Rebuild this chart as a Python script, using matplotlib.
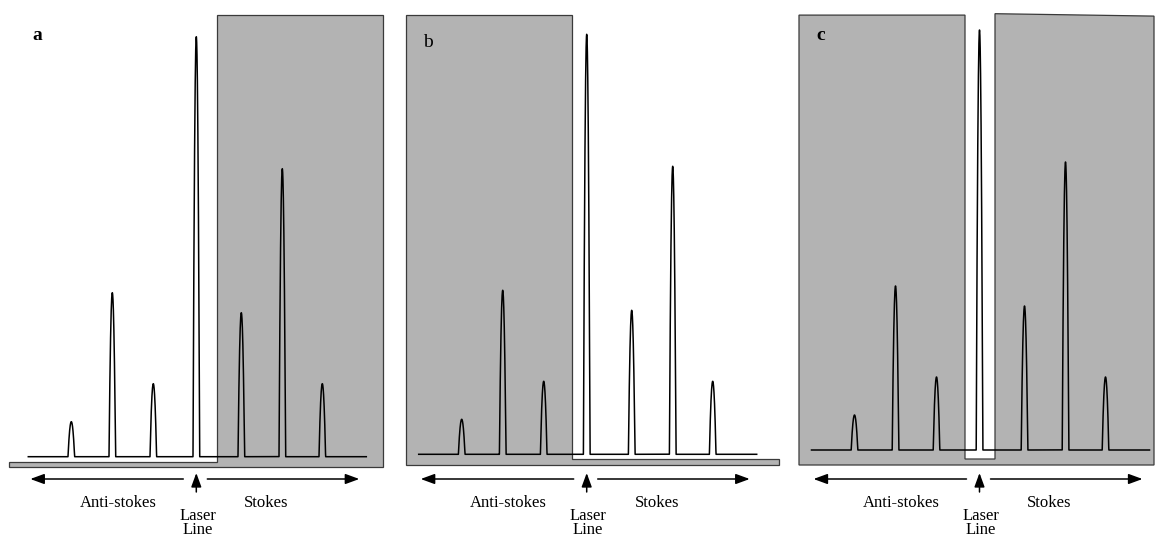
import numpy as np
import matplotlib.pyplot as plt
from matplotlib.patches import Polygon

plt.rcParams['font.family'] = ['Liberation Serif', 'DejaVu Serif']

# --- spectrum: Raman lines around the laser line ---
shifts = [-125, -84, -43, 0, 45, 86, 126]     # shift from laser line
heights = [35, 164, 73, 420, 144, 288, 73]    # line intensity
spec_range = (-168, 170)

# --- filter outlines (shift, level) for each case ---
filter_a = [(-187, -10.6), (-187, -5), (20.4, -5), (20.4, 441.7),
            (187, 441.7), (187, -10.6)]                     # edge filter
filter_b = [(-181, -10.6), (-181, 438.9), (-15, 438.9), (-15, -4.5),
            (192.6, -4.5), (192.6, -10.6)]                  # short-pass
filter_c = [(-180.5, -15), (-180.5, 434.9), (-14.5, 434.9), (-14.5, -9),
            (15.5, -9), (15.5, 436.3), (174.5, 433.9), (174.5, -15)]  # notch
filters = [filter_a, filter_b, filter_c]

panel_labels = ["a", "b", "c"]
label_weights = ["bold", "normal", "bold"]
side_labels = ["Anti-stokes", "Stokes"]
laser_label = "Laser\nLine"

# layout in pixels
W, H = 1155, 538
slices = [(0, 390), (390, 780), (780, 1155)]
laser_px = [196.3, 586.7, 979.5]
base_px = [456.7, 454.3, 450.0]
label_base = [40, 47, 40.5]


def fy(py):
    # pixel row -> axes fraction
    return 1 - py / H


def peak_profile(x, pos, h, hw=3.3):
    y = h * (1 - ((x - pos) / hw) ** 2)
    return np.clip(y, 0, None)


x = np.linspace(spec_range[0], spec_range[1], 8000)
y = np.zeros_like(x)
for s, h in zip(shifts, heights):
    y = np.maximum(y, peak_profile(x, s, h))

fig = plt.figure(figsize=(W / 100, H / 100), dpi=100)
fig.patch.set_facecolor('white')

for i, (x0, x1) in enumerate(slices):
    ax = fig.add_axes([x0 / W, 0, (x1 - x0) / W, 1])
    ax.set_xlim(x0 - laser_px[i], x1 - laser_px[i])
    ax.set_ylim(base_px[i] - H, base_px[i])
    ax.axis('off')

    ax.add_patch(Polygon(filters[i], closed=True, facecolor='#b3b3b3',
                         edgecolor='#3a3a3a', lw=0.9, zorder=1, clip_on=False))
    ax.plot(x, y, color='black', lw=1.1, zorder=3)

    tr = ax.get_xaxis_transform()
    arrow = dict(arrowstyle='-|>,head_length=0.6,head_width=0.22',
                 color='black', lw=1.1, mutation_scale=14,
                 shrinkA=0, shrinkB=0)
    ax.annotate('', xy=(-166, fy(479)), xytext=(-13, fy(479)),
                xycoords=tr, textcoords=tr, arrowprops=arrow)
    ax.annotate('', xy=(163, fy(479)), xytext=(11, fy(479)),
                xycoords=tr, textcoords=tr, arrowprops=arrow)
    ax.annotate('', xy=(0, fy(473)), xytext=(0, fy(492)),
                xycoords=tr, textcoords=tr, arrowprops=arrow)

    txt = dict(transform=tr, ha='center', va='center', fontsize=12)
    ax.text(-78, fy(503), side_labels[0], **txt)
    ax.text(70, fy(503), side_labels[1], **txt)
    ax.text(1.5, fy(534), laser_label, transform=tr, ha='center',
            va='baseline', fontsize=12, linespacing=0.8)

    ax.text(-159, fy(label_base[i]), panel_labels[i], transform=tr,
            ha='center', va='baseline', fontsize=14,
            fontweight=label_weights[i])

fig.savefig('out.png', dpi=100, facecolor='white')
